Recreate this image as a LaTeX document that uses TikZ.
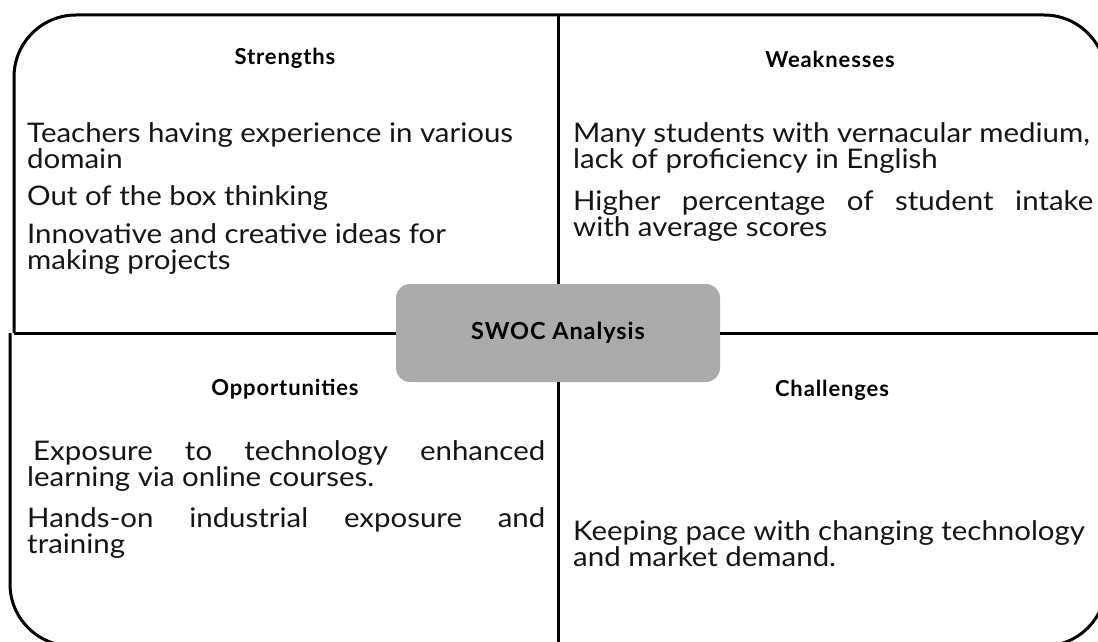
\documentclass[tikz,border=0pt]{standalone}
\usepackage{fontspec}
\setmainfont{Lato}
\definecolor{boxgray}{HTML}{ABABAB}
\definecolor{txt}{HTML}{151515}
\begin{document}
\begin{tikzpicture}[x=1pt,y=-1pt,
  frame/.style={line width=3pt, draw=black},
  body/.style={anchor=north west, inner sep=0pt, align=left, text=txt,
    font=\fontsize{27}{26.5}\selectfont\addfontfeature{FakeStretch=1.09}},
  head/.style={anchor=base, inner sep=0pt, text=black, font=\fontsize{22}{24}\selectfont\bfseries\addfontfeature{LetterSpace=4}}]
\useasboundingbox (0,0) rectangle (1098,642);
\clip (0,0) rectangle (1098,642);
% centre box
\node[fill=boxgray, rounded corners=14pt, minimum width=324pt, minimum height=98pt, inner sep=0pt,
  font=\fontsize{23.5}{25}\selectfont\bfseries\addfontfeature{LetterSpace=4}] (swoc) at (558,333) {SWOC Analysis};
% frame
\draw[frame] (swoc.west) -- (14,333);
\draw[frame, rounded corners=62pt] (14,333) -- (14,15) -- (558,15);
\draw[frame, rounded corners=62pt] (10,333) -- (10,646) -- (558,646);
\draw[frame, rounded corners=62pt] (558,15) -- (1106,15) -- (1106,646) -- (558,646);
\draw[frame] (558,15) -- (swoc.north);
\draw[frame] (swoc.south) -- (558,646);
\draw[frame] (swoc.east) -- (1106,333);
% headings
\node[head] (hs) at (285,65) {Strengths};
\node[head] (hw) at (830,67) {Weaknesses};
\node[head] (ho) at (285,395) {Opportunities};
\node[head] (hc) at (832,396) {Challenges};
% strengths
\node[body] (s1) at (27,122) {Teachers having experience in various\\domain};
\node[body] (s3) at (27,185) {Out of the box thinking};
\node[body] (s4) at (27,223) {Innovative and creative ideas for\\making projects};
% weaknesses
\node[body] (w1) at (573,122) {Many students with vernacular medium,\\lack of proficiency in English};
\node[body] (w3) at (573,190) {\makebox[520pt][s]{Higher percentage of student intake}\\with average scores};
% opportunities
\node[body] (o1) at (27,440) {\makebox[518pt][s]{\hspace*{6pt}Exposure to technology enhanced}\\learning via online courses.};
\node[body] (o3) at (27,507) {\makebox[518pt][s]{Hands-on industrial exposure and}\\training};
% challenges
\node[body] (c1) at (573,520) {Keeping pace with changing technology\\and market demand.};
\end{tikzpicture}
\end{document}
